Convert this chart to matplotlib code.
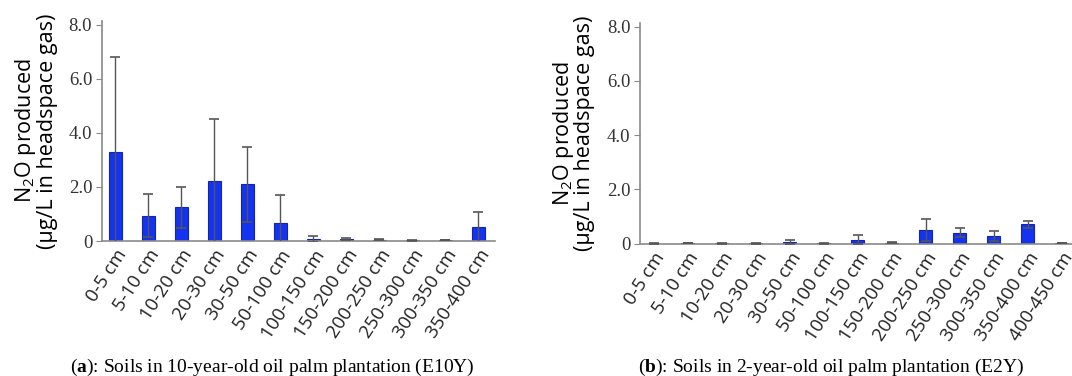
"""N2O production by soil depth, two plantations."""

import matplotlib

matplotlib.use("Agg")

import matplotlib.pyplot as plt

plt.rcParams["font.family"] = ["Open Sans", "DejaVu Sans"]
plt.rcParams["mathtext.fontset"] = "custom"
plt.rcParams["mathtext.rm"] = "Open Sans"
plt.rcParams["mathtext.it"] = "Open Sans"
plt.rcParams["mathtext.bf"] = "Liberation Serif:bold"

# panel (a): E10Y
depths_a = ["0-5 cm", "5-10 cm", "10-20 cm", "20-30 cm", "30-50 cm", "50-100 cm",
            "100-150 cm", "150-200 cm", "200-250 cm", "250-300 cm", "300-350 cm",
            "350-400 cm"]
n2o_a = [3.31, 0.94, 1.25, 2.22, 2.10, 0.65, 0.08, 0.06, 0.05, 0.02, 0.03, 0.51]
err_a = [3.49, 0.80, 0.76, 2.28, 1.39, 1.04, 0.10, 0.04, 0.03, 0.01, 0.01, 0.58]

# panel (b): E2Y
depths_b = depths_a + ["400-450 cm"]
n2o_b = [0.005, 0.02, 0.01, 0.01, 0.06, 0.01, 0.15, 0.03, 0.50, 0.40, 0.28, 0.71, 0.03]
err_b = [0.005, 0.01, 0.005, 0.005, 0.07, 0.005, 0.17, 0.02, 0.41, 0.17, 0.19, 0.14, 0.01]

yticks = [0, 2, 4, 6, 8]
ytick_labels = ["0", "2.0", "4.0", "6.0", "8.0"]

BAR = "#1433f0"
EDGE = "#1224b0"
AXIS = "#8a8a8a"


def draw_panel(ax, labels, vals, errs, xmax, label_x):
    x = list(range(len(labels)))
    ax.bar(x, vals, width=0.39, color=BAR, edgecolor=EDGE, linewidth=0.8, zorder=2)
    ax.errorbar(x, vals, yerr=errs, fmt="none", ecolor="#555555", elinewidth=1.0,
                capsize=3.5, capthick=1.2, zorder=3)
    ax.set_xlim(-0.4, xmax)
    ax.set_ylim(0, 8.15)
    ax.set_yticks(yticks)
    ax.set_yticklabels(ytick_labels, family=["Liberation Serif"], fontsize=13.5,
                       color="#333333")
    ax.set_xticks(x)
    ax.set_xticklabels(labels, rotation=57, ha="right", rotation_mode="anchor",
                       fontsize=13.5, color="#222222")
    ax.tick_params(axis="x", length=0, pad=4)
    ax.tick_params(axis="y", length=4, color=AXIS, pad=3)
    for side in ("top", "right"):
        ax.spines[side].set_visible(False)
    for side in ("left", "bottom"):
        ax.spines[side].set_color(AXIS)
        ax.spines[side].set_linewidth(1.2)
    ax.set_ylabel("N$_2$O produced\n(µg/L in headspace gas)", fontsize=15.5,
                  linespacing=0.92)
    ax.yaxis.set_label_coords(label_x, 0.5)


fig = plt.figure(figsize=(10.72, 3.76), dpi=100)

ax_a = fig.add_axes([0.0951, 0.359, 0.3666, 0.586])
draw_panel(ax_a, depths_a, n2o_a, err_a, 11.5, -0.112)

ax_b = fig.add_axes([0.597, 0.352, 0.403, 0.588])
draw_panel(ax_b, depths_b, n2o_b, err_b, 12.3, -0.103)

fig.text(0.254, 0.024, r"($\mathbf{a}$): Soils in 10-year-old oil palm plantation (E10Y)",
         ha="center", va="center", fontsize=14, family=["Liberation Serif"])
fig.text(0.775, 0.024, r"($\mathbf{b}$): Soils in 2-year-old oil palm plantation (E2Y)",
         ha="center", va="center", fontsize=14, family=["Liberation Serif"])

fig.savefig("out.png", dpi=100)
plt.close(fig)
